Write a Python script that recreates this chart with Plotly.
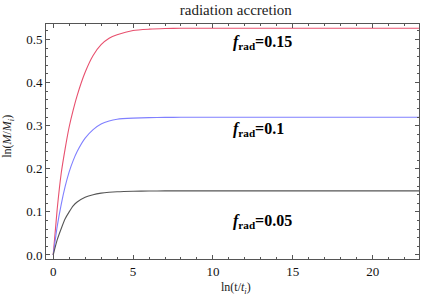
import plotly.graph_objects as go

# x = ln(t/t_i)
x_vals = [0, 0.25, 0.5, 0.75, 1, 1.25, 1.5, 2, 2.5, 3, 3.5, 4, 5, 6, 7, 8, 10, 15, 23]

# ln(M/M_i) for each f_rad
y_015 = [0, 0.106, 0.189, 0.247, 0.297, 0.336, 0.370, 0.424, 0.463, 0.488, 0.503, 0.511, 0.521, 0.524, 0.5255, 0.526, 0.526, 0.526, 0.526]
y_010 = [0, 0.066, 0.117, 0.159, 0.193, 0.219, 0.240, 0.271, 0.291, 0.304, 0.311, 0.315, 0.3175, 0.3188, 0.3193, 0.3195, 0.3195, 0.3195, 0.3195]
y_005 = [0, 0.035, 0.061, 0.084, 0.100, 0.114, 0.123, 0.134, 0.140, 0.1435, 0.1455, 0.1468, 0.1480, 0.1485, 0.1487, 0.1487, 0.1487, 0.1487, 0.1487]

labels = ["0.15", "0.1", "0.05"]
label_y = [0.493, 0.291, 0.077]
colors = ["#e8506e", "#8080ff", "#555555"]
series = [y_015, y_010, y_005]

SERIF = "Liberation Serif, DejaVu Serif, Times New Roman, serif"

fig = go.Figure()
for ys, c in zip(series, colors):
    fig.add_trace(go.Scatter(x=x_vals, y=ys, mode="lines",
                             line=dict(color=c, width=1.1, shape="spline", smoothing=0.6),
                             showlegend=False))

for lab, ly in zip(labels, label_y):
    fig.add_annotation(x=11.1, y=ly, xanchor="left", yanchor="middle", showarrow=False,
                       text=f"<b><i>f</i><sub>rad</sub>=" + lab + "</b>",
                       font=dict(family=SERIF, size=16, color="black"))

# axis titles as annotations (paper coords)
fig.add_annotation(x=0.509, y=-0.122, xref="paper", yref="paper", xanchor="center", yanchor="middle",
                   showarrow=False, text="ln(t/<i>t</i><sub><i>i</i></sub>)",
                   font=dict(family=SERIF, size=12, color="#222"))
fig.add_annotation(x=-0.102, y=0.524, xref="paper", yref="paper", xanchor="center", yanchor="middle",
                   showarrow=False, textangle=-90, text="ln(<i>M</i>/<i>M</i><sub><i>i</i></sub>)",
                   font=dict(family=SERIF, size=12, color="#222"))

axis_common = dict(showline=True, linecolor="#555", linewidth=1, mirror="ticks",
                   ticks="inside", tickcolor="#555", ticklen=4, showgrid=False,
                   zeroline=False, automargin=False,
                   tickfont=dict(family=SERIF, size=13, color="#111"))

fig.update_xaxes(range=[-0.45, 22.9], dtick=5, tick0=0,
                 minor=dict(dtick=1, ticks="inside", ticklen=2, tickcolor="#555"),
                 **axis_common)
fig.update_yaxes(range=[-0.0093, 0.536], dtick=0.1, tick0=0, tickformat=".1f",
                 minor=dict(dtick=0.02, ticks="inside", ticklen=2, tickcolor="#555"),
                 **axis_common)

fig.update_layout(width=428, height=304,
                  margin=dict(l=46, r=9, t=24, b=45, autoexpand=False),
                  paper_bgcolor="white", plot_bgcolor="white",
                  title=dict(text="radiation accretion", x=0.551, xanchor="center", y=0.967, yanchor="middle",
                             font=dict(family=SERIF, size=15, color="#222")))

fig.write_html("out.html", config={"displayModeBar": False},
               post_script="document.body.style.margin='0';document.body.style.overflow='hidden';")
